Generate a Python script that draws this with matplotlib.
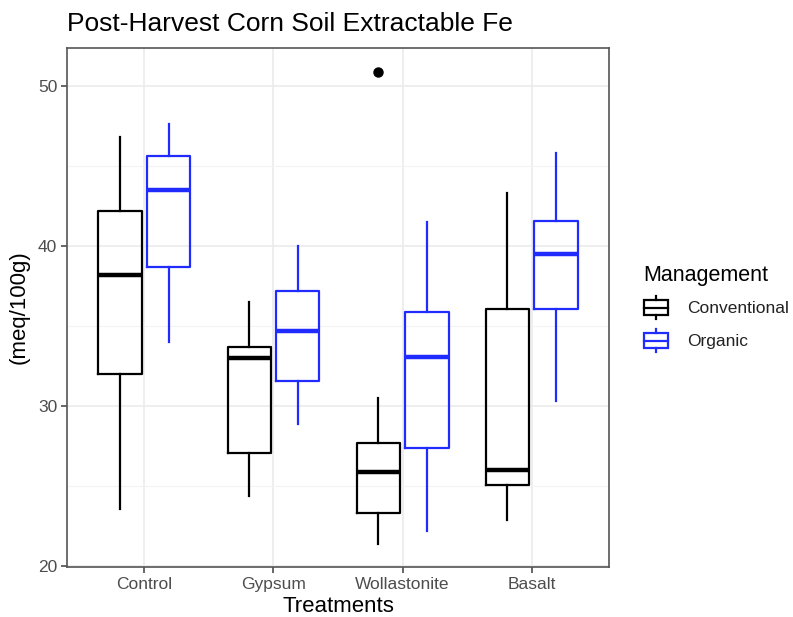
import numpy as np
import matplotlib
matplotlib.use('Agg')
import matplotlib.pyplot as plt
from matplotlib.legend_handler import HandlerBase
from matplotlib.patches import Rectangle
from matplotlib.lines import Line2D

plt.rcParams['font.family'] = ['Liberation Sans', 'DejaVu Sans']

# Data
treatments = ['Control', 'Gypsum', 'Wollastonite', 'Basalt']
groups = ['Conventional', 'Organic']
colors = {'Conventional': 'black', 'Organic': '#1F2BFF'}

conv_low = [23.6, 24.4, 21.4, 22.9]
conv_q1 = [32.0, 27.1, 23.3, 25.1]
conv_med = [38.2, 33.0, 25.9, 26.0]
conv_q3 = [42.2, 33.7, 27.7, 36.1]
conv_high = [46.8, 36.5, 30.5, 43.3]
conv_out = [[], [], [50.9], []]

org_low = [34.0, 28.9, 22.2, 30.3]
org_q1 = [38.7, 31.6, 27.4, 36.1]
org_med = [43.5, 34.7, 33.1, 39.5]
org_q3 = [45.6, 37.2, 35.9, 41.6]
org_high = [47.6, 40.0, 41.5, 45.8]
org_out = [[], [], [], []]

series = {
    'Conventional': (conv_low, conv_q1, conv_med, conv_q3, conv_high, conv_out),
    'Organic': (org_low, org_q1, org_med, org_q3, org_high, org_out),
}

fig = plt.figure(figsize=(7.93, 6.17), dpi=100)
ax = fig.add_axes([0.0845, 0.081, 0.6835, 0.841])

x = np.arange(1, len(treatments) + 1)
dodge = 0.1875
box_w = 0.3375

for k, g in enumerate(groups):
    low, q1, med, q3, high, out = series[g]
    stats = [dict(whislo=low[i], q1=q1[i], med=med[i], q3=q3[i], whishi=high[i],
                  fliers=out[i]) for i in range(len(treatments))]
    c = colors[g]
    pos = x + (-dodge if k == 0 else dodge)
    ax.bxp(stats, positions=pos, widths=box_w, showcaps=False, patch_artist=False,
           boxprops=dict(color=c, linewidth=1.6),
           whiskerprops=dict(color=c, linewidth=1.6),
           medianprops=dict(color=c, linewidth=3.2, solid_capstyle='butt'),
           flierprops=dict(marker='o', markerfacecolor=c, markeredgecolor=c, markersize=6.5),
           manage_ticks=False, zorder=3)

ax.set_xlim(0.4, 4.6)
ax.set_ylim(19.95, 52.37)
ax.set_xticks(x)
ax.set_xticklabels(treatments)
ax.set_yticks([20, 30, 40, 50])
ax.set_yticks([25, 35, 45], minor=True)
ax.grid(which='major', color='#EBEBEB', linewidth=1.2, zorder=0)
ax.grid(which='minor', axis='y', color='#F3F3F3', linewidth=0.8, zorder=0)
ax.set_axisbelow(True)
ax.tick_params(which='major', colors='#4D4D4D', labelsize=12.5, length=4, width=1.2, pad=3)
ax.tick_params(which='minor', length=0)
for sp in ax.spines.values():
    sp.set_color('#555555')
    sp.set_linewidth(1.2)

ax.set_xlabel('Treatments', fontsize=16, labelpad=3)
ax.set_ylabel('(meq/100g)', fontsize=16, labelpad=6)
ax.set_title('Post-Harvest Corn Soil Extractable Fe', fontsize=19, loc='left', pad=12)


class BoxKey(HandlerBase):
    def create_artists(self, legend, orig_handle, xdescent, ydescent, width, height, fontsize, trans):
        c = orig_handle.get_color()
        cx = width / 2 - xdescent
        bw = width * 0.9
        bh = height * 0.62
        by = height / 2 - ydescent - bh / 2
        rect = Rectangle((cx - bw / 2, by), bw, bh, fill=False, edgecolor=c, lw=1.6, transform=trans)
        med = Line2D([cx - bw / 2, cx + bw / 2], [by + bh / 2] * 2, color=c, lw=1.6, transform=trans)
        up = Line2D([cx, cx], [by + bh, height - ydescent], color=c, lw=1.6, transform=trans)
        dn = Line2D([cx, cx], [by, -ydescent], color=c, lw=1.6, transform=trans)
        return [rect, med, up, dn]


handles = [Line2D([], [], color=colors[g]) for g in groups]
leg = fig.legend(handles, groups, loc='upper left', bbox_to_anchor=(0.802, 0.581),
                 frameon=False, fontsize=12.5, title='Management', title_fontsize=15.5,
                 handler_map={Line2D: BoxKey()}, handlelength=1.55, handleheight=1.7,
                 handletextpad=1.0, labelspacing=0.55, borderaxespad=0)
leg._legend_box.align = 'left'
for t in leg.get_texts():
    t.set_color('#222222')

fig.savefig('out.png', dpi=100)
